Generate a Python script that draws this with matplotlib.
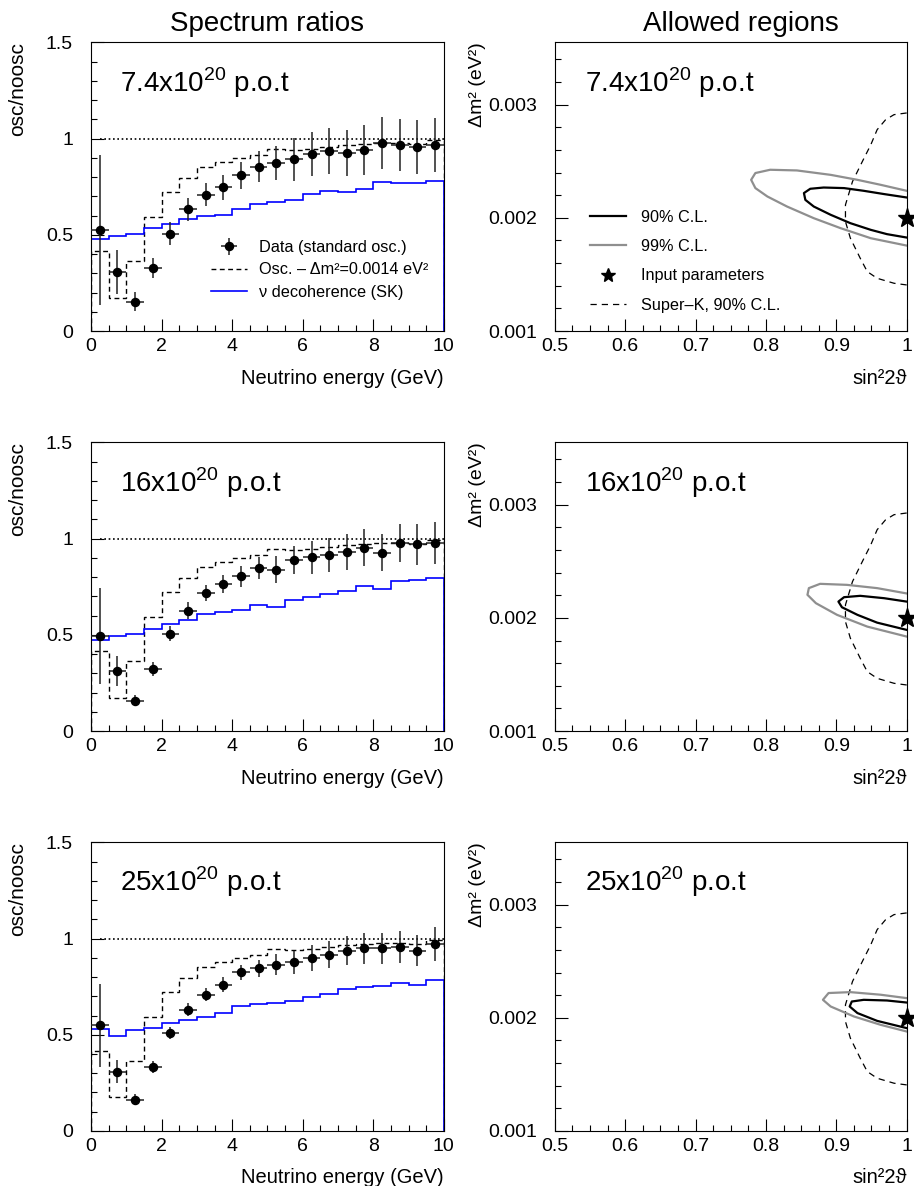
import matplotlib
matplotlib.use("Agg")
import matplotlib.pyplot as plt
from matplotlib.lines import Line2D
from matplotlib.ticker import MultipleLocator, FuncFormatter
import numpy as np

plt.rcParams['font.family'] = ['Liberation Sans', 'DejaVu Sans']
plt.rcParams['mathtext.fontset'] = 'custom'
plt.rcParams['mathtext.rm'] = 'Liberation Sans'

# 0.5 GeV energy bins from 0 to 10 GeV
energy_edges = np.arange(0, 10.5, 0.5)
energy_centres = energy_edges[:-1] + 0.25

exposures = ["7.4", "16", "25"]

# measured osc/noosc ratio and its error, one list per exposure
ratio_74 = [0.523, 0.306, 0.153, 0.327, 0.506, 0.634, 0.709, 0.747, 0.810, 0.855,
            0.874, 0.892, 0.920, 0.937, 0.925, 0.939, 0.977, 0.966, 0.958, 0.965]
err_74 = [0.39, 0.115, 0.05, 0.05, 0.06, 0.06, 0.06, 0.065, 0.07, 0.08,
          0.09, 0.11, 0.115, 0.12, 0.12, 0.13, 0.135, 0.135, 0.14, 0.14]
ratio_16 = [0.492, 0.313, 0.158, 0.321, 0.506, 0.626, 0.718, 0.765, 0.805, 0.846,
            0.839, 0.888, 0.904, 0.916, 0.931, 0.954, 0.928, 0.978, 0.970, 0.978]
err_16 = [0.25, 0.077, 0.03, 0.037, 0.04, 0.043, 0.043, 0.048, 0.055, 0.058,
          0.07, 0.074, 0.085, 0.09, 0.092, 0.097, 0.095, 0.10, 0.106, 0.108]
ratio_25 = [0.549, 0.309, 0.162, 0.332, 0.509, 0.631, 0.709, 0.761, 0.824, 0.846,
            0.865, 0.876, 0.900, 0.916, 0.938, 0.949, 0.949, 0.957, 0.938, 0.971]
err_25 = [0.217, 0.06, 0.028, 0.032, 0.033, 0.033, 0.035, 0.038, 0.04, 0.045,
          0.054, 0.06, 0.067, 0.07, 0.073, 0.08, 0.08, 0.083, 0.08, 0.089]

# oscillation with dm2 = 0.0014 eV2 (same in every panel)
osc_low_dm2 = [0.417, 0.174, 0.365, 0.591, 0.721, 0.796, 0.852, 0.878, 0.900, 0.913,
               0.944, 0.939, 0.947, 0.958, 0.966, 0.970, 0.979, 0.979, 0.970, 0.995]

# neutrino decoherence (SK) prediction
decoh_74 = [0.480, 0.495, 0.506, 0.535, 0.556, 0.584, 0.596, 0.601, 0.634, 0.660,
            0.671, 0.683, 0.713, 0.727, 0.723, 0.740, 0.775, 0.770, 0.770, 0.782]
decoh_16 = [0.471, 0.492, 0.506, 0.532, 0.558, 0.579, 0.608, 0.617, 0.631, 0.657,
            0.645, 0.683, 0.697, 0.714, 0.730, 0.756, 0.738, 0.782, 0.784, 0.796]
decoh_25 = [0.530, 0.492, 0.527, 0.535, 0.561, 0.579, 0.593, 0.613, 0.648, 0.660,
            0.666, 0.674, 0.697, 0.714, 0.738, 0.747, 0.756, 0.770, 0.759, 0.787]

# allowed region contours (sin^2 2theta, dm2)
cl90_s_74 = [1.0, 0.968, 0.939, 0.911, 0.882, 0.863, 0.854, 0.856, 0.868, 0.892, 0.920, 0.949, 0.972, 1.0]
cl90_d_74 = [0.00218, 0.00221, 0.002239, 0.002263, 0.002268, 0.002257, 0.002219, 0.002159,
             0.0021, 0.002027, 0.001953, 0.001894, 0.001856, 0.001826]
cl99_s_74 = [1.0, 0.963, 0.930, 0.892, 0.844, 0.806, 0.785, 0.779, 0.785, 0.802, 0.830, 0.868,
             0.906, 0.949, 1.0]
cl99_d_74 = [0.002239, 0.002292, 0.002336, 0.00238, 0.002419, 0.002425, 0.002396, 0.002336,
             0.002263, 0.002189, 0.0021, 0.001997, 0.001909, 0.00182, 0.001755]

cl90_s_16 = [1.0, 0.968, 0.934, 0.911, 0.903, 0.908, 0.930, 0.958, 1.0]
cl90_d_16 = [0.002144, 0.002174, 0.002195, 0.002183, 0.002144, 0.002094, 0.002027, 0.001958, 0.001894]
cl99_s_16 = [1.0, 0.958, 0.915, 0.877, 0.861, 0.859, 0.871, 0.901, 0.944, 1.0]
cl99_d_16 = [0.002216, 0.002263, 0.002292, 0.002301, 0.002263, 0.002204, 0.00213, 0.002027,
             0.001923, 0.001835]

cl90_s_25 = [1.0, 0.972, 0.939, 0.922, 0.919, 0.930, 0.958, 1.0]
cl90_d_25 = [0.002135, 0.002153, 0.002159, 0.002144, 0.0021, 0.002042, 0.001973, 0.001909]
cl99_s_25 = [1.0, 0.963, 0.920, 0.889, 0.881, 0.892, 0.925, 0.963, 1.0]
cl99_d_25 = [0.002174, 0.002204, 0.002227, 0.002219, 0.002159, 0.0021, 0.002012, 0.001938, 0.001879]

superk_s = [1.0, 0.982, 0.970, 0.958, 0.949, 0.937, 0.923, 0.913, 0.913, 0.920, 0.934,
            0.944, 0.958, 0.982, 1.0]
superk_d = [0.002927, 0.002912, 0.002867, 0.002779, 0.002646, 0.002498, 0.002321, 0.002115,
            0.001967, 0.00182, 0.001643, 0.001525, 0.001466, 0.001422, 0.001407]

input_point = (1.0, 0.002)

ratios = [ratio_74, ratio_16, ratio_25]
errors = [err_74, err_16, err_25]
decohs = [decoh_74, decoh_16, decoh_25]
cl90 = [(cl90_s_74, cl90_d_74), (cl90_s_16, cl90_d_16), (cl90_s_25, cl90_d_25)]
cl99 = [(cl99_s_74, cl99_d_74), (cl99_s_16, cl99_d_16), (cl99_s_25, cl99_d_25)]

fig = plt.figure(figsize=(9.14, 11.86), dpi=100)

row_bottoms = [0.7209, 0.3836, 0.0464]
height = 0.2433
fmt = FuncFormatter(lambda v, p: f"{v:g}")
grey = '#8f8f8f'


def style_axis(ax):
    ax.tick_params(which='both', direction='in', top=False, right=False, width=0.8)
    ax.tick_params(which='major', length=9, labelsize=14)
    ax.tick_params(which='minor', length=4.5)
    ax.tick_params(axis='x', pad=5)
    ax.tick_params(axis='y', pad=13)
    for sp in ax.spines.values():
        sp.set_linewidth(0.8)
    ax.xaxis.set_major_formatter(fmt)
    ax.yaxis.set_major_formatter(fmt)


for i in range(3):
    # spectrum ratio panel
    ax = fig.add_axes([0.0996, row_bottoms[i], 0.386, height])
    ax.hlines(1.0, 0.25, 10, color='k', ls=(0, (1, 1.6)), lw=1.2)
    ax.stairs(osc_low_dm2, energy_edges, baseline=0, color='k', ls=(0, (3.5, 2.5)), lw=1.0)
    ax.stairs(decohs[i], energy_edges, baseline=0, color='#0000ff', lw=1.2)
    data = ax.errorbar(energy_centres, ratios[i], yerr=errors[i], xerr=0.25, fmt='o',
                       color='k', ecolor='#222222', ms=5.8, elinewidth=1.1, capsize=0, zorder=4)
    ax.set_xlim(0, 10)
    ax.set_ylim(0, 1.5)
    ax.xaxis.set_major_locator(MultipleLocator(2))
    ax.xaxis.set_minor_locator(MultipleLocator(0.5))
    ax.yaxis.set_major_locator(MultipleLocator(0.5))
    ax.yaxis.set_minor_locator(MultipleLocator(0.1))
    style_axis(ax)
    ax.set_xlabel('Neutrino energy (GeV)', fontsize=14.5, loc='right')
    ax.xaxis.set_label_coords(1.0, -0.13)
    ax.set_ylabel('osc/noosc', fontsize=15, loc='top')
    ax.yaxis.set_label_coords(-0.18, 1.0)
    ax.text(0.082, 0.83, exposures[i] + r'x10$^{\mathrm{20}}$ p.o.t', fontsize=20,
            transform=ax.transAxes, va='baseline')
    if i == 0:
        ax.set_title('Spectrum ratios', fontsize=20, pad=8)
        handles = [data,
                   Line2D([], [], color='k', ls=(0, (3.5, 2.5)), lw=1.0),
                   Line2D([], [], color='#0000ff', lw=1.2)]
        labels = ['Data (standard osc.)', 'Osc. – Δm²=0.0014 eV²', 'ν decoherence (SK)']
        ax.legend(handles, labels, loc='upper left', bbox_to_anchor=(0.34, 0.315),
                  frameon=False, fontsize=11.7, borderpad=0, borderaxespad=0,
                  handlelength=2.2, handletextpad=0.75, labelspacing=0.45)

    # allowed regions panel
    ax = fig.add_axes([0.607, row_bottoms[i], 0.385, height])
    ax.plot(superk_s, superk_d, color='k', ls=(0, (5, 4)), lw=0.9)
    ax.plot(cl99[i][0], cl99[i][1], color=grey, lw=1.6)
    ax.plot(cl90[i][0], cl90[i][1], color='k', lw=1.6)
    ax.plot([input_point[0]], [input_point[1]], marker='*', ms=14, color='k',
            ls='none', clip_on=False, zorder=5)
    ax.set_xlim(0.5, 1.0)
    ax.set_ylim(0.001, 0.00355)
    ax.xaxis.set_major_locator(MultipleLocator(0.1))
    ax.xaxis.set_minor_locator(MultipleLocator(0.025))
    ax.yaxis.set_major_locator(MultipleLocator(0.001))
    ax.yaxis.set_minor_locator(MultipleLocator(0.0002))
    style_axis(ax)
    ax.set_xlabel('sin²2ϑ', fontsize=14.5, loc='right')
    ax.xaxis.set_label_coords(1.0, -0.13)
    ax.set_ylabel('Δm² (eV²)', fontsize=14, loc='top')
    ax.yaxis.set_label_coords(-0.195, 1.0)
    ax.text(0.085, 0.83, exposures[i] + r'x10$^{\mathrm{20}}$ p.o.t', fontsize=20,
            transform=ax.transAxes, va='baseline')
    if i == 0:
        ax.set_title('Allowed regions', fontsize=20, pad=8, x=0.53)
        handles = [Line2D([], [], color='k', lw=1.6),
                   Line2D([], [], color=grey, lw=1.6),
                   Line2D([], [], color='k', marker='*', ms=10, ls='none'),
                   Line2D([], [], color='k', ls=(0, (5, 4)), lw=0.9)]
        labels = ['90% C.L.', '99% C.L.', 'Input parameters', 'Super–K, 90% C.L.']
        ax.legend(handles, labels, loc='upper left', bbox_to_anchor=(0.1, 0.42),
                  frameon=False, fontsize=11.7, borderpad=0, borderaxespad=0,
                  handlelength=2.2, handletextpad=0.95, labelspacing=0.88)

fig.savefig('out.png', dpi=100)
